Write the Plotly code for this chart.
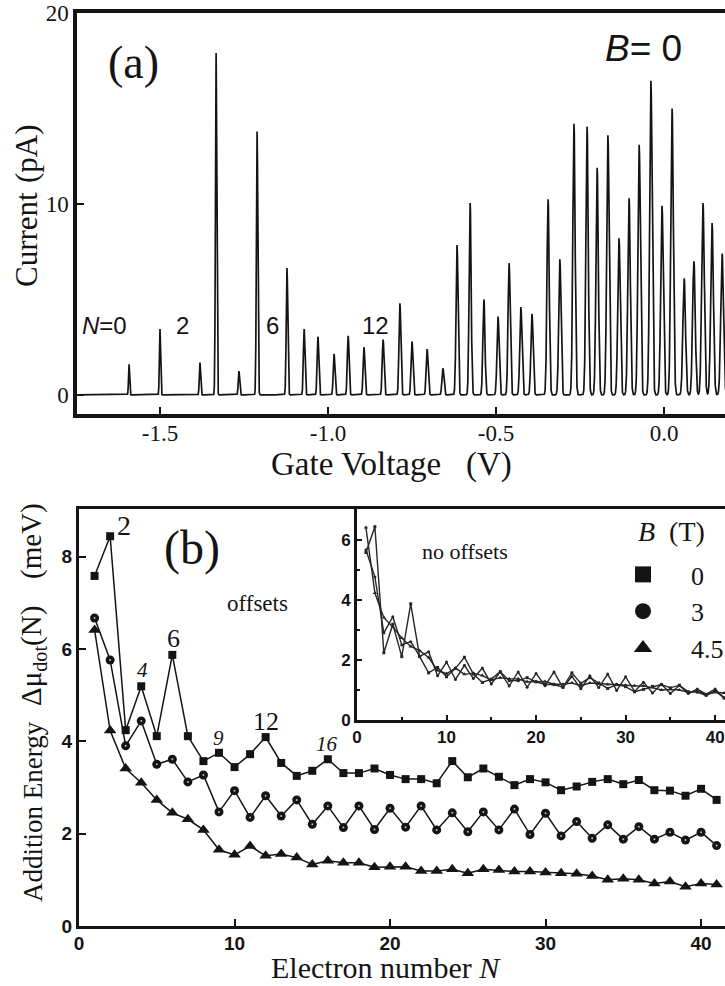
import numpy as np
import plotly.graph_objects as go

# ---------------- Panel (a): Coulomb oscillations at B = 0 ----------------
# Peak positions (gate voltage, V) and peak heights (current, pA)
peak_gate_v = [-1.592, -1.500, -1.381, -1.333, -1.265, -1.211, -1.122, -1.071,
               -1.030, -0.982, -0.940, -0.893, -0.836, -0.786, -0.750, -0.705,
               -0.658, -0.616, -0.577, -0.536, -0.494, -0.461, -0.426, -0.393,
               -0.345, -0.310, -0.268, -0.229, -0.199, -0.167, -0.134, -0.104,
               -0.074, -0.039, -0.006, 0.024, 0.060, 0.089, 0.116, 0.143, 0.173]
peak_current_pa = [1.6, 3.45, 1.7, 17.9, 1.25, 13.8, 6.65, 3.45,
                   3.05, 2.15, 3.1, 2.5, 2.9, 4.8, 2.8, 2.4,
                   1.4, 7.85, 10.05, 5.0, 4.1, 6.9, 4.6, 4.25,
                   10.25, 7.1, 14.2, 14.05, 11.9, 13.6, 8.2, 10.3,
                   13.1, 16.45, 9.9, 15.0, 6.1, 7.0, 10.05, 9.0, 7.4]
gate_ticks = [-1.5, -1.0, -0.5, 0.0]
gate_tick_text = ["-1.5", "-1.0", "-0.5", "0.0"]
current_ticks = [0, 10, 20]
peak_labels = ["<i>N</i>=0", "2", "6", "12"]
peak_label_v = [-1.664, -1.432, -1.164, -0.860]

# ---------------- Panel (b): addition energy vs electron number ----------------
electron_n = list(range(1, 42))
# addition energies (meV) without offsets
add_energy_b0 = [5.58, 6.44, 2.24, 3.19, 2.11, 3.87, 2.11, 1.57, 1.75, 1.44,
                 1.72, 2.09, 1.53, 1.25, 1.36, 1.61, 1.31, 1.31, 1.41, 1.27,
                 1.18, 1.18, 1.09, 1.57, 1.22, 1.41, 1.23, 1.05, 1.18, 1.11,
                 0.94, 1.02, 1.12, 1.18, 1.07, 1.16, 0.94, 0.93, 0.82, 0.97, 0.73]
add_energy_b3 = [5.67, 4.76, 2.90, 3.44, 2.50, 2.61, 2.12, 2.27, 1.47, 1.93,
                 1.35, 1.82, 1.38, 1.73, 1.20, 1.60, 1.13, 1.60, 1.09, 1.55,
                 1.14, 1.60, 1.08, 1.45, 1.04, 1.47, 1.08, 1.53, 0.98, 1.44,
                 0.95, 1.26, 0.90, 1.19, 0.88, 1.15, 0.88, 1.03, 0.86, 1.03, 0.74]
add_energy_b45 = [6.41, 4.23, 3.41, 3.10, 2.73, 2.45, 2.31, 2.08, 1.65, 1.54,
                  1.73, 1.52, 1.56, 1.48, 1.33, 1.41, 1.37, 1.37, 1.27, 1.28,
                  1.28, 1.19, 1.19, 1.23, 1.14, 1.23, 1.21, 1.18, 1.18, 1.16,
                  1.14, 1.13, 1.08, 1.00, 1.02, 1.00, 0.92, 0.96, 0.85, 0.92, 0.90]
field_names = ["0", "3", "4.5"]
offsets_mev = [2.0, 1.0, 0.0]
magic_n = [2, 4, 6, 9, 12, 16]

SERIF = "Liberation Serif"
SANS = "Liberation Sans"
INK = "#141414"

fig = go.Figure()

# ---- current trace built from the peak list ----
gate = np.arange(-1.75, 0.19, 0.0002)
current = np.zeros_like(gate)
for v0, h in zip(peak_gate_v, peak_current_pa):
    sigma = 0.0016 + 0.0024 * (v0 + 1.6) / 1.77
    current += h * np.exp(-0.5 * ((gate - v0) / sigma) ** 2)
fig.add_trace(go.Scatter(x=gate, y=current, mode="lines",
                         line=dict(color=INK, width=1.7),
                         xaxis="x", yaxis="y", showlegend=False, hoverinfo="skip"))

# ---- main panel (b), with offsets ----
series = [add_energy_b0, add_energy_b3, add_energy_b45]
symbols = ["square", "circle", "triangle-up"]
sizes = [8, 9, 11]
for vals, off, sym, sz in zip(series, offsets_mev, symbols, sizes):
    fig.add_trace(go.Scatter(
        x=electron_n, y=[v + off for v in vals], mode="lines+markers",
        line=dict(color=INK, width=1.5),
        marker=dict(symbol=sym, size=sz, color=INK, line=dict(width=0)),
        xaxis="x2", yaxis="y2", showlegend=False))
# light centre dots on the circles
fig.add_trace(go.Scatter(
    x=electron_n, y=[v + offsets_mev[1] for v in add_energy_b3], mode="markers",
    marker=dict(symbol="circle", size=2, color="#bbbbbb"),
    xaxis="x2", yaxis="y2", showlegend=False, hoverinfo="skip"))

# ---- inset, no offsets ----
inset_sizes = [3, 3, 4]
for vals, sym, sz in zip(series, symbols, inset_sizes):
    fig.add_trace(go.Scatter(
        x=electron_n, y=vals, mode="lines+markers",
        line=dict(color="#262626", width=1.4),
        marker=dict(symbol=sym, size=sz, color="#262626"),
        xaxis="x3", yaxis="y3", showlegend=False))

# ---- legend entries ----
legend_sizes = [16, 17, 17]
for name, sym, sz in zip(field_names, symbols, legend_sizes):
    fig.add_trace(go.Scatter(
        x=[None], y=[None], mode="markers", name=name,
        marker=dict(symbol=sym, size=sz, color=INK),
        xaxis="x3", yaxis="y3", showlegend=True))

axis_common = dict(showline=True, linecolor=INK, showgrid=False, zeroline=False,
                   ticks="inside", tickcolor=INK, automargin=False)

fig.update_layout(
    width=725, height=986,
    margin=dict(l=0, r=0, t=0, b=0, autoexpand=False),
    paper_bgcolor="white", plot_bgcolor="rgba(0,0,0,0)",
    xaxis=dict(axis_common, domain=[0.1062, 1.0], anchor="y", range=[-1.747, 0.1815],
               linewidth=3.5, mirror=True, ticklen=7, tickwidth=2,
               tickvals=gate_ticks, ticktext=gate_tick_text, ticklabelstandoff=-4,
               tickfont=dict(family=SERIF, size=23, color=INK)),
    yaxis=dict(axis_common, domain=[0.5801, 0.9868], anchor="x", range=[-1, 20],
               linewidth=3.5, ticklen=7, tickwidth=2, tickvals=current_ticks,
               tickfont=dict(family=SERIF, size=23, color=INK)),
    xaxis2=dict(axis_common, domain=[0.109, 1.0], anchor="y2", range=[0, 41.54],
                linewidth=3.3, mirror=True, ticklen=7, tickwidth=2,
                tickvals=[0, 10, 20, 30, 40], ticklabelstandoff=-2,
                tickfont=dict(family=SANS, size=19, color=INK, weight="bold")),
    yaxis2=dict(axis_common, domain=[0.0609, 0.4838], anchor="x2", range=[0, 9.03],
                linewidth=3.3, ticklen=7, tickwidth=2, tickvals=[0, 2, 4, 6, 8],
                tickfont=dict(family=SANS, size=19, color=INK, weight="bold")),
    xaxis3=dict(axis_common, domain=[0.4924, 1.0], anchor="y3", range=[0, 41.1],
                linewidth=2.5, ticklen=5, tickwidth=1.5, tickvals=[0, 10, 20, 30, 40],
                minor=dict(ticks="inside", dtick=5, ticklen=3, tickcolor=INK),
                tickfont=dict(family=SANS, size=17, color=INK, weight="bold")),
    yaxis3=dict(axis_common, domain=[0.2698, 0.4838], anchor="x3", range=[0, 7.03],
                linewidth=2.5, ticklen=5, tickwidth=1.5, tickvals=[0, 2, 4, 6],
                minor=dict(ticks="inside", dtick=1, ticklen=3, tickcolor=INK),
                tickfont=dict(family=SANS, size=17, color=INK, weight="bold")),
    legend=dict(x=0.8207, y=0.4412, xanchor="left", yanchor="top",
                bgcolor="rgba(0,0,0,0)", itemwidth=86,
                font=dict(family=SERIF, size=26, color=INK),
                tracegroupgap=0),
)

ann = []


def label(text, x, y, xref, yref, family, size, angle=0):
    ann.append(dict(text=text, x=x, y=y, xref=xref, yref=yref, textangle=angle,
                    xanchor="center", yanchor="middle", showarrow=False,
                    font=dict(family=family, size=size, color=INK)))


def px(xp, yp):
    return xp / 725, 1 - yp / 986


# panel (a) texts
label("(a)", *px(133, 62), "paper", "paper", SERIF, 46)
label("<i>B</i>= 0", *px(643, 48), "paper", "paper", SANS, 37)
for txt, xv in zip(peak_labels, peak_label_v):
    label(txt, xv, 3.66, "x", "y", SANS, 24)
label("(pA)", *px(27, 153), "paper", "paper", SERIF, 31, -90)
label("Current", *px(26, 240), "paper", "paper", SERIF, 31, -90)
label("Gate Voltage\u00a0\u00a0 (V)", *px(392, 464), "paper", "paper", SERIF, 33)

# panel (b) texts
label("(b)", *px(192, 548), "paper", "paper", SERIF, 48)
label("offsets", 11.5, 6.99, "x2", "y2", SERIF, 23)
magic_pos = {2: (2.89, 8.68, 28, False), 4: (4.05, 5.54, 21, True), 6: (6.05, 6.23, 26, False),
             9: (9.0, 4.07, 21, True), 12: (12.03, 4.42, 26, False), 16: (15.95, 3.94, 21, True)}
for n in magic_n:
    xv, yv, fs, it = magic_pos[n]
    label(f"<i>{n}</i>" if it else str(n), xv, yv, "x2", "y2", SERIF, fs)
label("no offsets", 12.07, 5.6, "x3", "y3", SERIF, 22)
label("<i>B</i>\u00a0\u00a0(T)", *px(671, 531), "paper", "paper", SERIF, 28)
label("Electron number <i>N</i>", *px(386, 967), "paper", "paper", SERIF, 30)
label("Addition Energy", *px(33, 812), "paper", "paper", SERIF, 27, -90)
label("Δμ<sub>dot</sub>(N)", *px(33, 656), "paper", "paper", SERIF, 29, -90)
label("(meV)", *px(31, 541), "paper", "paper", SERIF, 29, -90)
fig.update_layout(annotations=ann)

fig.write_html("out.html")
